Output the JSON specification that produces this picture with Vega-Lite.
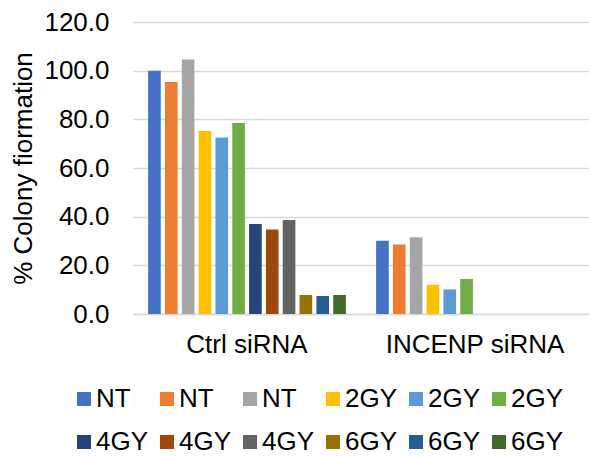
{
  "$schema": "https://vega.github.io/schema/vega-lite/v6.json",
  "width": 456,
  "height": 292,
  "autosize": {"type": "none"},
  "padding": {"left": 133, "top": 22, "right": 0, "bottom": 142},
  "background": "white",
  "config": {
    "font": "Liberation Sans",
    "view": {"stroke": null}
  },
  "data": {
    "values": [
      {"group": "Ctrl siRNA", "series": "NT 1", "value": 100.0},
      {"group": "Ctrl siRNA", "series": "NT 2", "value": 95.3},
      {"group": "Ctrl siRNA", "series": "NT 3", "value": 104.6},
      {"group": "Ctrl siRNA", "series": "2GY 1", "value": 75.2},
      {"group": "Ctrl siRNA", "series": "2GY 2", "value": 72.5},
      {"group": "Ctrl siRNA", "series": "2GY 3", "value": 78.5},
      {"group": "Ctrl siRNA", "series": "4GY 1", "value": 37.0},
      {"group": "Ctrl siRNA", "series": "4GY 2", "value": 34.7},
      {"group": "Ctrl siRNA", "series": "4GY 3", "value": 38.6},
      {"group": "Ctrl siRNA", "series": "6GY 1", "value": 7.8},
      {"group": "Ctrl siRNA", "series": "6GY 2", "value": 7.4},
      {"group": "Ctrl siRNA", "series": "6GY 3", "value": 7.8},
      {"group": "INCENP siRNA", "series": "NT 1", "value": 30.1},
      {"group": "INCENP siRNA", "series": "NT 2", "value": 28.6},
      {"group": "INCENP siRNA", "series": "NT 3", "value": 31.5},
      {"group": "INCENP siRNA", "series": "2GY 1", "value": 12.0},
      {"group": "INCENP siRNA", "series": "2GY 2", "value": 10.1},
      {"group": "INCENP siRNA", "series": "2GY 3", "value": 14.4}
    ]
  },
  "mark": {"type": "bar"},
  "encoding": {
    "x": {
      "field": "group",
      "type": "nominal",
      "scale": {"paddingInner": 0, "paddingOuter": 0},
      "axis": {
        "title": null,
        "labelAngle": 0,
        "labelFontSize": 26,
        "labelColor": "#000000",
        "labelPadding": 17,
        "ticks": false,
        "domainColor": "#D9D9D9",
        "domainWidth": 1.5
      }
    },
    "xOffset": {
      "field": "series",
      "type": "nominal",
      "scale": {"paddingInner": 0.25, "paddingOuter": 0.9},
      "sort": ["NT 1","NT 2","NT 3","2GY 1","2GY 2","2GY 3","4GY 1","4GY 2","4GY 3","6GY 1","6GY 2","6GY 3"]
    },
    "y": {
      "field": "value",
      "type": "quantitative",
      "scale": {"domain": [0, 120], "nice": false},
      "axis": {
        "title": "% Colony fiormation",
        "titleFontSize": 26,
        "titleFontWeight": "normal",
        "titleColor": "#000000",
        "titlePadding": 7,
        "values": [0, 20, 40, 60, 80, 100, 120],
        "format": ".1f",
        "labelFontSize": 26,
        "labelColor": "#000000",
        "labelPadding": 24,
        "ticks": false,
        "domain": false,
        "gridColor": "#D9D9D9",
        "gridWidth": 1.5
      }
    },
    "color": {
      "field": "series",
      "type": "nominal",
      "scale": {
        "domain": ["NT 1","NT 2","NT 3","2GY 1","2GY 2","2GY 3","4GY 1","4GY 2","4GY 3","6GY 1","6GY 2","6GY 3"],
        "range": ["#4472C4","#ED7D31","#A5A5A5","#FFC000","#5B9BD5","#70AD47","#264478","#9E480E","#636363","#997300","#255E91","#43682B"]
      },
      "legend": {
        "title": null,
        "orient": "none",
        "legendX": -62,
        "legendY": 364,
        "direction": "horizontal",
        "columns": 6,
        "gridAlign": "all",
        "columnPadding": 5,
        "rowPadding": 17,
        "symbolType": "square",
        "symbolSize": 196,
        "symbolStrokeWidth": 0,
        "labelFontSize": 26,
        "labelColor": "#000000",
        "labelAlign": "left",
        "labelOffset": -1,
        "labelExpr": "split(datum.label, ' ')[0]"
      }
    }
  }
}
